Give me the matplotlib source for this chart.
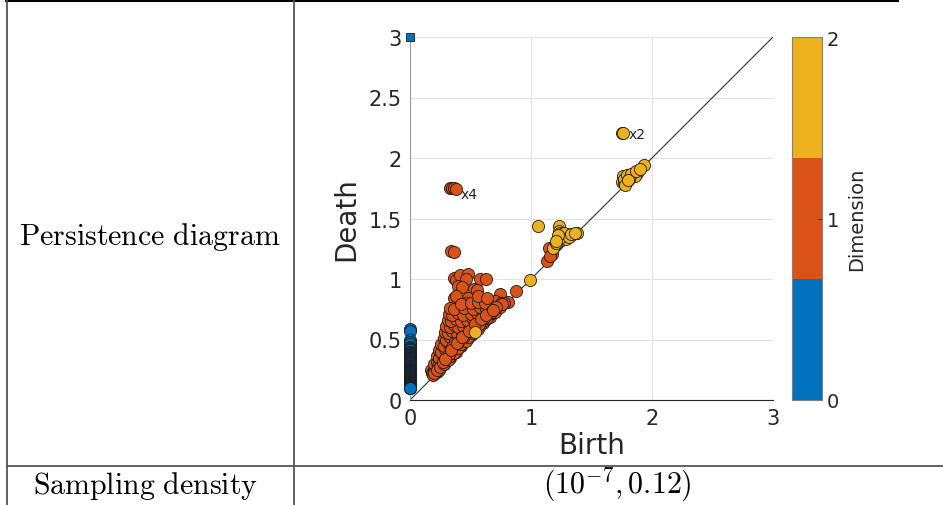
import matplotlib
matplotlib.use("Agg")
import matplotlib.pyplot as plt
from matplotlib.colors import ListedColormap, Normalize
from matplotlib.cm import ScalarMappable
from matplotlib.lines import Line2D

plt.rcParams['mathtext.fontset'] = 'cm'

# dimension 0 (birth always 0)
dim0_death = [0.59, 0.57, 0.50, 0.48, 0.46, 0.44, 0.43, 0.42, 0.41, 0.40, 0.395, 0.39,
              0.385, 0.38, 0.375, 0.37, 0.365, 0.36, 0.355, 0.35, 0.345, 0.34, 0.335,
              0.33, 0.325, 0.32, 0.315, 0.31, 0.305, 0.30, 0.295, 0.29, 0.285, 0.28,
              0.275, 0.27, 0.265, 0.26, 0.255, 0.25, 0.248, 0.245, 0.24, 0.238, 0.235,
              0.23, 0.228, 0.225, 0.22, 0.218, 0.215, 0.21, 0.208, 0.205, 0.20, 0.198,
              0.195, 0.19, 0.188, 0.185, 0.18, 0.178, 0.175, 0.17, 0.168, 0.165, 0.16,
              0.158, 0.155, 0.15, 0.148, 0.145, 0.14, 0.138, 0.135, 0.13, 0.128, 0.125,
              0.12, 0.118, 0.115, 0.11, 0.108, 0.105, 0.102, 0.10, 0.098]
dim0_birth = [0.0] * len(dim0_death)
inf_birth, inf_death = 0.0, 3.0

# dimension 1
dim1_birth = [0.33, 0.35, 0.36, 0.38, 0.34, 0.36,
              0.36, 0.38, 0.41, 0.48, 0.46, 0.58, 0.63,
              0.40, 0.43, 0.53, 0.55, 0.36, 0.38, 0.48, 0.46,
              0.88, 0.81, 0.74, 0.70, 0.75, 1.15, 1.13, 1.17, 1.16,
              0.17, 0.18, 0.20, 0.22, 0.24, 0.19,
              0.20, 0.22, 0.25, 0.28, 0.23,
              0.22, 0.24, 0.27, 0.30, 0.33,
              0.24, 0.26, 0.29, 0.32, 0.36, 0.38,
              0.26, 0.28, 0.31, 0.34, 0.38, 0.42,
              0.28, 0.30, 0.33, 0.37, 0.41, 0.45, 0.48,
              0.29, 0.31, 0.35, 0.39, 0.43, 0.47, 0.51,
              0.30, 0.33, 0.36, 0.40, 0.44, 0.49, 0.53, 0.57,
              0.31, 0.34, 0.38, 0.42, 0.47, 0.52, 0.56, 0.61,
              0.32, 0.35, 0.40, 0.44, 0.50, 0.55, 0.60, 0.65,
              0.33, 0.36, 0.45, 0.52, 0.58, 0.63, 0.68,
              0.42, 0.50, 0.56, 0.62, 0.56, 0.64,
              0.26, 0.30, 0.34, 0.38, 0.44, 0.50, 0.56, 0.60, 0.66, 0.72, 0.78,
              0.20, 0.22, 0.25, 0.28, 0.31, 0.33, 0.36, 0.40, 0.42, 0.46,
              0.48, 0.52, 0.54, 0.58, 0.62, 0.64, 0.68, 0.70, 0.74, 0.76,
              0.27, 0.32, 0.35, 0.40, 0.45, 0.51, 0.57, 0.61, 0.67, 0.71,
              0.29, 0.34, 0.39, 0.43, 0.49, 0.54, 0.59, 0.63, 0.69]
dim1_death = [1.75, 1.75, 1.75, 1.74, 1.23, 1.22,
              1.01, 0.99, 1.03, 1.04, 1.00, 1.00, 1.00,
              0.94, 0.93, 0.92, 0.91, 0.84, 0.86, 0.84, 0.80,
              0.90, 0.81, 0.88, 0.82, 0.80, 1.26, 1.15, 1.21, 1.19,
              0.25, 0.22, 0.24, 0.23, 0.25, 0.21,
              0.30, 0.31, 0.30, 0.30, 0.28,
              0.36, 0.35, 0.36, 0.35, 0.35,
              0.41, 0.40, 0.42, 0.40, 0.41, 0.40,
              0.46, 0.45, 0.47, 0.45, 0.46, 0.45,
              0.51, 0.50, 0.52, 0.50, 0.51, 0.50, 0.51,
              0.56, 0.55, 0.57, 0.55, 0.56, 0.55, 0.56,
              0.61, 0.60, 0.62, 0.60, 0.61, 0.62, 0.60, 0.61,
              0.66, 0.65, 0.67, 0.65, 0.66, 0.67, 0.65, 0.66,
              0.71, 0.70, 0.72, 0.70, 0.71, 0.72, 0.70, 0.71,
              0.76, 0.75, 0.76, 0.75, 0.77, 0.75, 0.76,
              0.79, 0.80, 0.81, 0.80, 0.86, 0.84,
              0.28, 0.32, 0.37, 0.43, 0.48, 0.54, 0.59, 0.64, 0.69, 0.75, 0.80,
              0.22, 0.25, 0.27, 0.30, 0.33, 0.36, 0.39, 0.43, 0.46, 0.49,
              0.52, 0.55, 0.58, 0.62, 0.66, 0.68, 0.72, 0.73, 0.77, 0.79,
              0.31, 0.38, 0.44, 0.48, 0.53, 0.58, 0.63, 0.68, 0.73, 0.77,
              0.34, 0.41, 0.47, 0.52, 0.57, 0.63, 0.67, 0.70, 0.74]

# dimension 2
dim2_birth = [1.75, 1.76,
              1.93, 1.88, 1.85, 1.82, 1.80, 1.76, 1.75, 1.77, 1.78, 1.84, 1.86, 1.79,
              1.77, 1.79, 1.81, 1.83, 1.87, 1.90, 1.78, 1.80,
              1.06, 1.23, 1.23, 1.24, 1.26, 1.28, 1.30, 1.32, 1.35, 1.38, 1.27, 1.22,
              1.20, 1.18, 1.25, 1.29, 1.21,
              1.25, 1.27, 1.31, 1.33, 1.36, 1.22, 1.21,
              0.99, 0.54]
dim2_death = [2.21, 2.21,
              1.94, 1.88, 1.87, 1.85, 1.84, 1.85, 1.80, 1.79, 1.82, 1.86, 1.85, 1.81,
              1.83, 1.86, 1.83, 1.87, 1.89, 1.91, 1.78, 1.82,
              1.44, 1.44, 1.40, 1.38, 1.37, 1.36, 1.37, 1.36, 1.37, 1.38, 1.34, 1.33,
              1.28, 1.26, 1.32, 1.33, 1.30,
              1.35, 1.38, 1.35, 1.37, 1.38, 1.36, 1.31,
              0.99, 0.56]

dim_colors = ['#0072BD', '#D95319', '#EDB120']
dim_ticks = [0, 1, 2]

W, H = 943, 506
fig = plt.figure(figsize=(W / 100, H / 100), dpi=100)


def fx(px):
    return px / W


def fy(py):
    return 1 - py / H


ax = fig.add_axes([fx(410), fy(401), fx(773) - fx(410), fy(38) - fy(401)])
ax.set_xlim(0, 3)
ax.set_ylim(0, 3)
ax.grid(True, color='#e3e3e3', lw=0.8)
ax.set_axisbelow(True)
ax.plot([0, 3], [0, 3], color='#333333', lw=0.8, zorder=1)

kw = dict(s=76, edgecolors='#1a1a1a', linewidths=0.6, clip_on=False)
ax.scatter(dim0_birth, dim0_death, c=dim_colors[0], zorder=3, **kw)
ax.scatter(dim1_birth, dim1_death, c=dim_colors[1], zorder=4, **kw)
ax.scatter(dim2_birth, dim2_death, c=dim_colors[2], zorder=5, **kw)
ax.scatter([inf_birth], [inf_death], c=dim_colors[0], marker='s', s=36,
           edgecolors='#1a1a1a', linewidths=0.6, clip_on=False, zorder=6)

ax.text(0.42, 1.70, 'x4', fontsize=10, color='#222222', va='center')
ax.text(1.81, 2.20, 'x2', fontsize=10, color='#222222', va='center')

for s in ['top', 'right']:
    ax.spines[s].set_visible(False)
ax.spines['left'].set_color('#9a9a9a')
ax.spines['bottom'].set_color('#262626')
ax.set_xticks([0, 1, 2, 3])
ax.set_yticks([0, 0.5, 1, 1.5, 2, 2.5, 3])
ax.set_yticklabels(['0', '0.5', '1', '1.5', '2', '2.5', '3'])
ax.tick_params(length=0, labelsize=15, colors='#262626', pad=6)
ax.set_xlabel('Birth', fontsize=20, color='#262626', labelpad=2)
ax.set_ylabel('Death', fontsize=20, color='#262626', labelpad=6)

cax = fig.add_axes([fx(792), fy(401), fx(822) - fx(792), fy(38) - fy(401)])
sm = ScalarMappable(norm=Normalize(0, 2), cmap=ListedColormap(dim_colors))
cb = fig.colorbar(sm, cax=cax, ticks=dim_ticks)
cb.outline.set_edgecolor('#808080')
cb.outline.set_linewidth(0.8)
cax.tick_params(labelsize=14, colors='#262626', length=3, direction='in', width=0.6)
cb.set_label('Dimension', fontsize=14, color='#262626', labelpad=6)

# table rules
fig.add_artist(Line2D([fx(6), fx(898)], [fy(2), fy(2)], color='black', lw=1.5))
fig.add_artist(Line2D([fx(7), fx(7)], [fy(2), fy(506)], color='#555555', lw=1.3))
fig.add_artist(Line2D([fx(293.5), fx(293.5)], [fy(2), fy(506)], color='#555555', lw=1.3))
fig.add_artist(Line2D([fx(7), fx(943)], [fy(467), fy(467)], color='#555555', lw=1.3))

fig.text(fx(150), fy(237), r'$\mathrm{Persistence\ diagram}$', fontsize=21.5,
         ha='center', va='center')
fig.text(fx(146), fy(486), r'$\mathrm{Sampling\ density}$', fontsize=21.5,
         ha='center', va='center')
fig.text(fx(617), fy(485), r'$(10^{-7}, 0.12)$', fontsize=21.5,
         ha='center', va='center')

fig.savefig('out.png', dpi=100)
